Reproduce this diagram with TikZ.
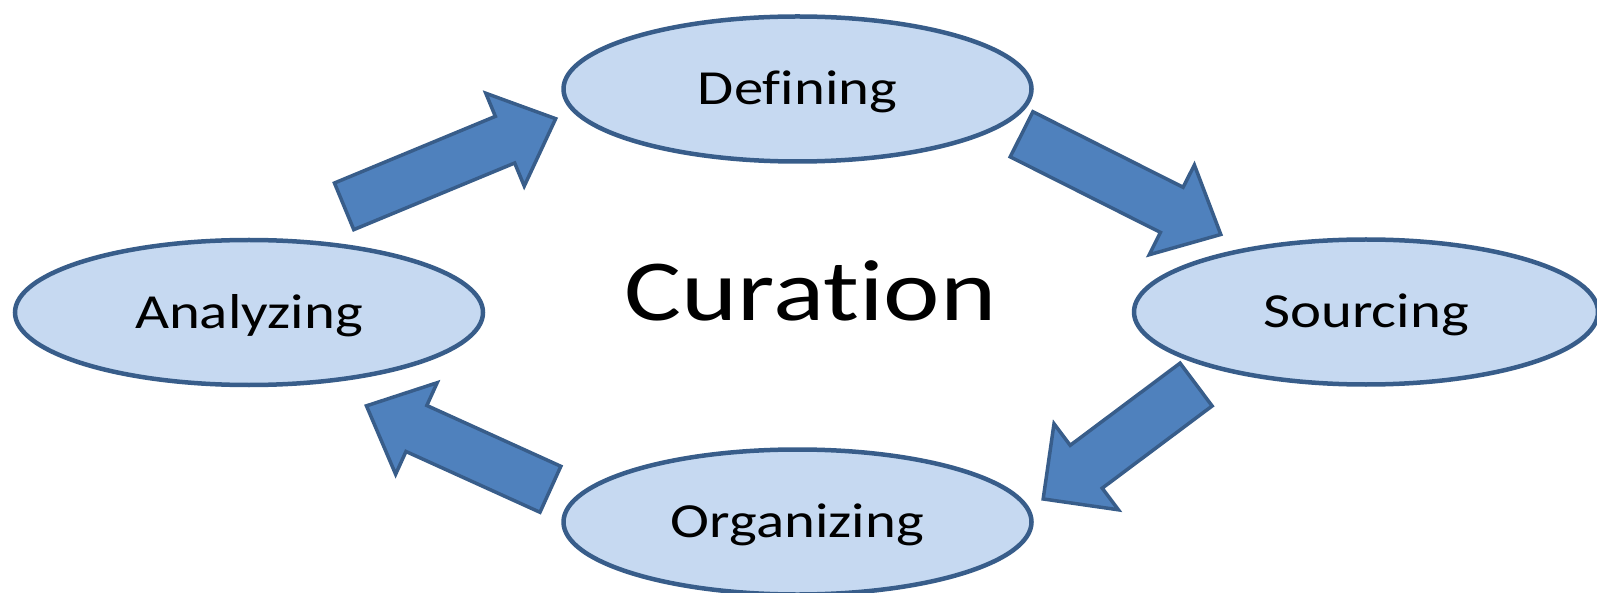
\documentclass[tikz,border=0pt]{standalone}
\usepackage{fontspec}
\setmainfont{Carlito}[Ligatures=NoCommon]
\usetikzlibrary{shapes.geometric,shapes.arrows}
\definecolor{ellfill}{HTML}{C6D9F1}
\definecolor{ellline}{HTML}{385D8A}
\definecolor{arrfill}{HTML}{4F81BD}
\begin{document}
\begin{tikzpicture}[x=1pt,y=-1pt,
  stage/.style={ellipse, draw=ellline, fill=ellfill, line width=4.5pt, inner sep=0pt,
    minimum width=468pt, minimum height=145pt, text height=31pt, text depth=0pt,
    font=\fontsize{49}{55}\selectfont},
  flow/.style={single arrow, draw=ellline, fill=arrfill, line width=3.5pt,
    inner xsep=0pt, inner ysep=23.5pt,
    single arrow head extend=25pt, single arrow tip angle=85,
    anchor=tail},
  title/.style={inner sep=0pt, text height=55pt, text depth=0pt,
    font=\fontsize{87}{95}\selectfont}
]
\useasboundingbox (0,0) rectangle (1597,593);
\node[stage] (def) at (797.5,89) {\scalebox{1.2}[1]{Defining}};
\node[stage, minimum width=464pt] (src) at (1366,312) {\scalebox{1.2}[1]{Sourcing}};
\node[stage] (org) at (797.5,522) {\scalebox{1.2}[1]{Organizing}};
\node[stage] (ana) at (249,312.5) {\scalebox{1.2}[1]{Analyzing}};
\node[title] (cur) at (810.5,293.5) {\scalebox{1.23}[1]{Curation}};
\node[flow, minimum height=229pt, rotate=22.5] (a1) at (342.5,207) {};
\node[flow, minimum height=223pt, rotate=-26.7] (a2) at (1020,133.5) {};
\node[flow, minimum height=191pt, inner ysep=25pt, single arrow head extend=27pt, single arrow tip angle=90, rotate=216.8] (a3) at (1197.5,383.5) {};
\node[flow, minimum height=202pt, rotate=155.6] (a4) at (552,490) {};
\end{tikzpicture}
\end{document}
